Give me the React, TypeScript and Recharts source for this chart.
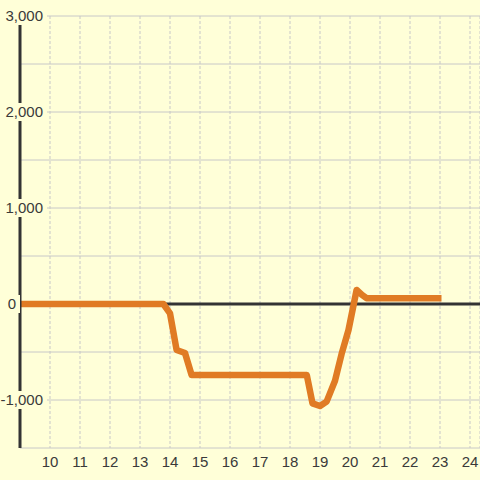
import React from "react";
import { LineChart, Line, XAxis, YAxis, CartesianGrid, ReferenceLine } from "recharts";

const xValues = [9, 13.78, 14.0, 14.22, 14.5, 14.72, 18.56, 18.75, 19.0, 19.22, 19.5, 19.72, 19.95, 20.22, 20.4, 20.55, 23.05];
const yValues = [0, 0, -97, -479, -510, -740, -740, -1035, -1063, -1017, -800, -520, -271, 146, 94, 60, 60];
const xTicks = [10, 11, 12, 13, 14, 15, 16, 17, 18, 19, 20, 21, 22, 23, 24];
const yTicks = [-1500, -1000, -500, 0, 500, 1000, 1500, 2000, 2500, 3000];
const yLabelled = [3000, 2000, 1000, 0, -1000];

const data = xValues.map((x, i) => ({ x, y: yValues[i] }));

const BG = "#ffffd8";
const FONT = "'Liberation Sans', Arial, sans-serif";

const fmt = (v: number) => v.toLocaleString("en-US");

const YTick = (props: any) => {
  const { y, payload } = props;
  const v = payload.value;
  if (!yLabelled.includes(v)) return null;
  const label = fmt(v);
  const right = v === 0 ? 16 : 43;
  const w = label.length * 8.4 + 4;
  return (
    <g>
      <rect x={right - w + 2} y={y - 9} width={w + 2} height={18} fill={BG} />
      <text x={right} y={y} dy="0.355em" textAnchor="end" fontSize={15} fontFamily={FONT} fill="#3a3a3a">
        {label}
      </text>
    </g>
  );
};

export default function App() {
  return (
    <div style={{ position: "fixed", left: 0, top: 0, width: 480, height: 480, background: BG }}>
      <LineChart width={480} height={480} data={data} margin={{ top: 16, right: 0, bottom: 0, left: 0 }}>
        <CartesianGrid horizontal={true} vertical={false} stroke="#c8c8c8" strokeWidth={1} />
        <CartesianGrid horizontal={false} vertical={true} stroke="#c8c8c8" strokeDasharray="3 2" strokeWidth={1} />
        <XAxis
          dataKey="x"
          type="number"
          domain={[9, 24.333]}
          ticks={xTicks}
          allowDataOverflow
          axisLine={false}
          tickLine={false}
          height={32}
          tick={{ fontSize: 15, fontFamily: FONT, fill: "#3a3a3a" }}
        />
        <YAxis
          type="number"
          domain={[-1500, 3000]}
          ticks={yTicks}
          width={20}
          axisLine={{ stroke: "#333333", strokeWidth: 3 }}
          tickLine={false}
          tick={<YTick />}
          interval={0}
        />
        <ReferenceLine y={0} stroke="#333333" strokeWidth={3} />
        <Line
          dataKey="y"
          type="linear"
          stroke="#e07b24"
          strokeWidth={6.5}
          dot={false}
          isAnimationActive={false}
          strokeLinejoin="round"
        />
      </LineChart>
    </div>
  );
}
